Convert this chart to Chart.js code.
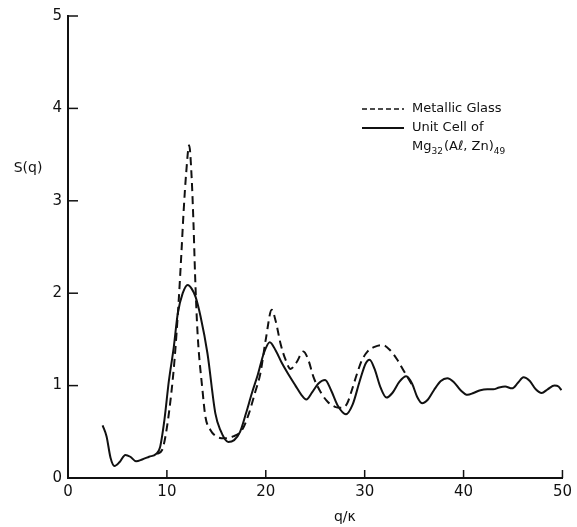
<!DOCTYPE html>
<html>
<head>
<meta charset="utf-8">
<script src="https://cdn.jsdelivr.net/npm/chart.js@4.4.1/dist/chart.umd.min.js"></script>
<style>
html,body{margin:0;padding:0;background:#fff;}
canvas{display:block;}
</style>
</head>
<body>
<canvas id="c" width="577" height="527"></canvas>
<script>
// ---- data ----
const xTicks = [0, 10, 20, 30, 40, 50];
const yTicks = [0, 1, 2, 3, 4, 5];

const qSolid = [3.5,3.9,4.3,4.7,5.2,5.8,6.3,6.9,7.5,8.2,8.9,9.3,9.75,10.2,10.7,11.1,11.6,12.1,12.5,12.9,13.4,14.1,14.9,15.4,16.2,16.8,17.4,18.0,18.6,19.2,19.8,20.4,21.0,21.6,22.3,23.0,23.6,24.1,24.7,25.3,26.0,26.6,27.3,28.1,28.8,29.5,30.1,30.5,31.0,31.6,32.2,32.8,33.5,34.2,34.8,35.3,35.8,36.4,37.0,37.7,38.35,39.0,39.7,40.4,41.0,41.7,42.4,43.0,43.6,44.2,44.9,45.5,46.05,46.7,47.3,47.9,48.5,49.2,49.6,49.9];
const sSolid = [0.57,0.45,0.22,0.13,0.17,0.25,0.23,0.18,0.20,0.23,0.26,0.33,0.63,1.05,1.42,1.78,2.00,2.09,2.05,1.96,1.75,1.35,0.70,0.52,0.39,0.41,0.50,0.70,0.92,1.12,1.35,1.47,1.38,1.25,1.12,1.00,0.90,0.85,0.93,1.02,1.06,0.95,0.78,0.69,0.80,1.05,1.24,1.28,1.18,0.98,0.87,0.92,1.04,1.10,1.02,0.88,0.81,0.85,0.95,1.05,1.08,1.04,0.95,0.90,0.92,0.95,0.96,0.96,0.98,0.99,0.97,1.03,1.09,1.05,0.96,0.92,0.96,1.00,0.99,0.95];

const qDashed = [9.0,9.5,9.8,10.25,10.75,11.2,11.45,11.7,11.95,12.25,12.5,12.7,12.85,13.1,13.6,13.9,14.4,15.0,15.8,16.7,17.6,18.3,18.9,19.45,20.0,20.6,21.0,21.5,22.0,22.5,23.1,23.8,24.3,24.8,25.6,26.3,27.0,27.6,28.2,28.7,29.2,29.7,30.3,31.0,31.8,32.6,33.3,33.9,34.4,34.9];
const sDashed = [0.26,0.30,0.42,0.74,1.25,1.93,2.40,2.90,3.30,3.60,3.26,2.72,2.20,1.57,0.95,0.66,0.52,0.45,0.43,0.45,0.52,0.70,0.92,1.13,1.50,1.82,1.70,1.45,1.28,1.18,1.25,1.37,1.28,1.10,0.92,0.82,0.77,0.76,0.80,0.95,1.12,1.27,1.37,1.42,1.44,1.38,1.28,1.17,1.08,0.99];

const legendLabels = ['Metallic Glass', 'Unit Cell of'];
const xTitle = 'q/\u03BA';
const yTitle = 'S(q)';

// ---- drawing ----
const INK = '#111';
const FONT = '"DejaVu Sans", sans-serif';

const toPts = (xs, ys) => xs.map((v, i) => ({x: v, y: ys[i]}));

const annot = {
  id: 'annot',
  afterDraw(chart) {
    const {ctx, scales: {x, y}} = chart;
    ctx.save();
    ctx.strokeStyle = INK;
    ctx.fillStyle = INK;
    ctx.lineWidth = 1.5;
    // inward ticks
    yTicks.forEach(v => {
      const py = y.getPixelForValue(v);
      ctx.beginPath(); ctx.moveTo(x.left, py); ctx.lineTo(x.left + 10, py); ctx.stroke();
    });
    xTicks.forEach(v => {
      const px = x.getPixelForValue(v);
      ctx.beginPath(); ctx.moveTo(px, y.bottom); ctx.lineTo(px, y.bottom - 8); ctx.stroke();
    });
    // axis titles
    ctx.font = '14px ' + FONT;
    ctx.textAlign = 'center';
    ctx.textBaseline = 'middle';
    ctx.fillText(yTitle, 28, y.getPixelForValue(3.35));
    ctx.fillText(xTitle, x.getPixelForValue(28), 517);

    // legend
    const lx0 = 362, lx1 = 404, tx = 412;
    const ly = [109, 128, 147];
    ctx.lineWidth = 1.6;
    ctx.setLineDash([5, 3]);
    ctx.beginPath(); ctx.moveTo(lx0, ly[0]); ctx.lineTo(lx1, ly[0]); ctx.stroke();
    ctx.setLineDash([]);
    ctx.lineWidth = 1.8;
    ctx.beginPath(); ctx.moveTo(lx0, ly[1]); ctx.lineTo(lx1, ly[1]); ctx.stroke();
    ctx.textAlign = 'left';
    ctx.font = '13px ' + FONT;
    ctx.fillText(legendLabels[0], tx, ly[0]);
    ctx.fillText(legendLabels[1], tx, ly[1]);
    // Mg32(Al, Zn)49 with subscripts
    let cx = tx;
    const parts = [['Mg', 0], ['32', 1], ['(A\u2113, Zn)', 0], ['49', 1]];
    parts.forEach(([t, sub]) => {
      ctx.font = (sub ? '9px ' : '13px ') + FONT;
      ctx.fillText(t, cx, ly[2] + (sub ? 5 : 0));
      cx += ctx.measureText(t).width + (sub ? 1 : 0);
    });
    ctx.restore();
  }
};

new Chart(document.getElementById('c'), {
  type: 'line',
  data: {
    datasets: [
      {
        label: legendLabels[1],
        data: toPts(qSolid, sSolid),
        borderColor: INK,
        borderWidth: 2,
        pointRadius: 0,
        fill: false,
        cubicInterpolationMode: 'monotone'
      },
      {
        label: legendLabels[0],
        data: toPts(qDashed, sDashed),
        borderColor: INK,
        borderWidth: 2,
        borderDash: [8, 5],
        pointRadius: 0,
        fill: false,
        cubicInterpolationMode: 'monotone'
      }
    ]
  },
  options: {
    responsive: false,
    animation: false,
    devicePixelRatio: 1,
    layout: {padding: {left: 0, right: 11, top: 16, bottom: 0}},
    plugins: {legend: {display: false}, tooltip: {enabled: false}},
    scales: {
      x: {
        type: 'linear', min: 0, max: 50,
        afterBuildTicks: s => { s.ticks = xTicks.map(v => ({value: v})); },
        afterFit: s => { s.height = 49; },
        grid: {display: true, drawOnChartArea: false, drawTicks: false},
        border: {display: true, color: INK, width: 2},
        ticks: {color: INK, font: {family: FONT, size: 15}, padding: 5, maxRotation: 0}
      },
      y: {
        type: 'linear', min: 0, max: 5,
        afterBuildTicks: s => { s.ticks = yTicks.map(v => ({value: v})); },
        afterFit: s => { s.width = 68; },
        grid: {display: true, drawOnChartArea: false, drawTicks: false},
        border: {display: true, color: INK, width: 2},
        ticks: {color: INK, font: {family: FONT, size: 15}, padding: 6}
      }
    }
  },
  plugins: [annot]
});
</script>
</body>
</html>
